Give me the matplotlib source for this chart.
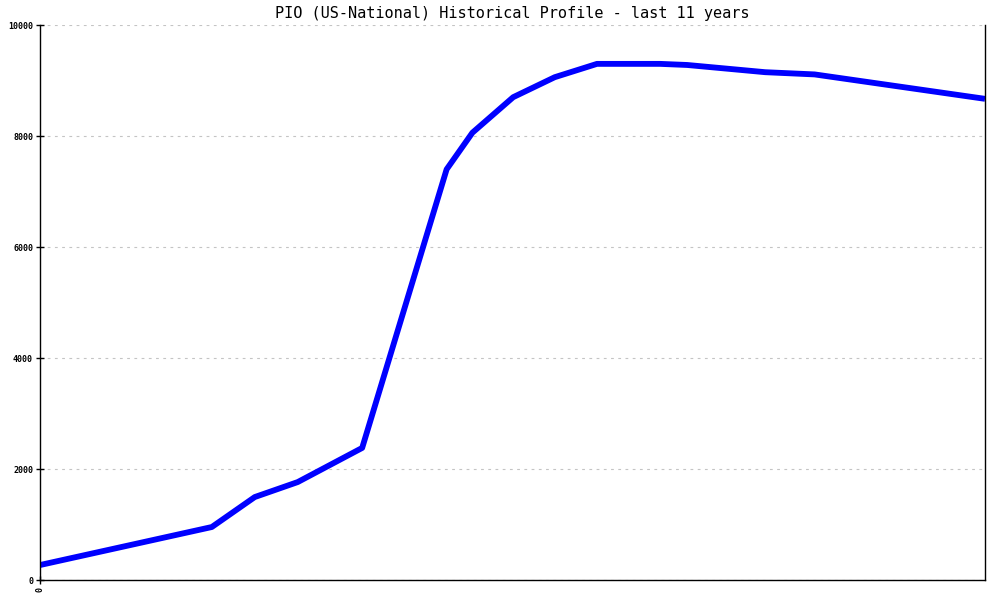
import matplotlib
matplotlib.use("Agg")
import matplotlib.pyplot as plt

# months since start of the 11-year window
months = [0, 24, 30, 36, 45, 56.8, 60.4, 66.1, 71.9, 77.8, 86.6, 90.4, 101.3, 108.2, 132]
values = [270, 955, 1495, 1765, 2380, 7400, 8060, 8700, 9060, 9300, 9300, 9280, 9150, 9110, 8670]
y_ticks = [0, 2000, 4000, 6000, 8000, 10000]

fig = plt.figure(figsize=(10, 6), dpi=100)
ax = fig.add_axes([0.04, 0.0333, 0.945, 0.925])

ax.plot(months, values, color='#0000ff', linewidth=4.2, solid_capstyle='butt')

ax.set_xlim(0, 132)
ax.set_ylim(0, 10000)
ax.set_yticks(y_ticks)
ax.set_yticklabels([str(v) for v in y_ticks], fontsize=6, family='DejaVu Sans Mono',
                   fontweight='bold')
ax.set_xticks([0])
ax.set_xticklabels(['0'], fontsize=6, family='DejaVu Sans Mono', fontweight='bold',
                   rotation=90)
ax.tick_params(axis='both', direction='inout', length=6, width=1, pad=2)

# light dotted horizontal grid
ax.grid(axis='y', color='#c4c4c4', linestyle=(0, (2.5, 4)), linewidth=0.8)
ax.spines['top'].set_visible(False)
for s in ['left', 'right', 'bottom']:
    ax.spines[s].set_color('black')
    ax.spines[s].set_linewidth(1)

ax.set_title('PIO (US-National) Historical Profile - last 11 years',
             fontsize=11, family='DejaVu Sans Mono', pad=5)

fig.savefig('out.png', dpi=100)
